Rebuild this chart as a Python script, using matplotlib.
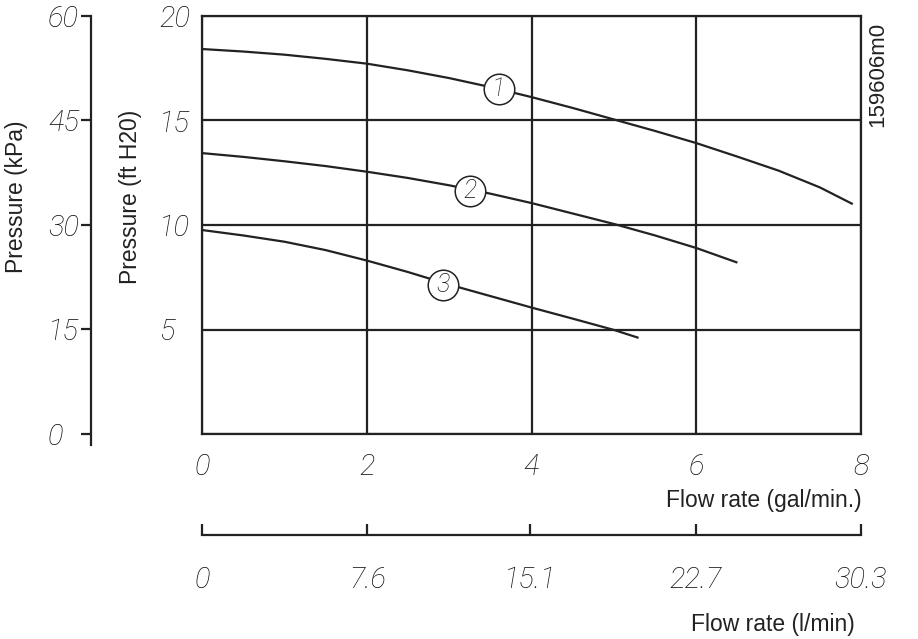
import matplotlib
matplotlib.use("Agg")
import matplotlib.pyplot as plt

# curve readings (gal/min, ft H2O)
flow_1 = [0, 0.5, 1, 1.5, 2, 2.5, 3, 3.5, 4, 4.5, 5, 5.5, 6, 6.5, 7, 7.5, 7.9]
head_1 = [18.42, 18.3, 18.15, 17.95, 17.72, 17.4, 17.03, 16.6, 16.12, 15.6,
          15.05, 14.5, 13.92, 13.27, 12.6, 11.8, 11.0]
flow_2 = [0, 0.5, 1, 1.5, 2, 2.5, 3, 3.5, 4, 4.5, 5, 5.5, 6, 6.5]
head_2 = [13.44, 13.26, 13.05, 12.82, 12.55, 12.25, 11.9, 11.5, 11.05, 10.55,
          10.05, 9.5, 8.9, 8.2]
flow_3 = [0, 0.5, 1, 1.5, 2, 2.5, 3, 3.5, 4, 4.5, 5, 5.3]
head_3 = [9.76, 9.5, 9.2, 8.8, 8.3, 7.75, 7.15, 6.6, 6.05, 5.52, 4.98, 4.6]

curve_names = ["1", "2", "3"]
label_flow = [3.6, 3.25, 2.93]
label_head = [16.5, 11.65, 7.15]

gal_ticks = [0, 2, 4, 6, 8]
ft_ticks = [0, 5, 10, 15, 20]
ft_labels = ["", "5", "10", "15", "20"]
kpa_ticks = [0, 15, 30, 45, 60]
lmin_ticks = [0, 7.6, 15.1, 22.7, 30.3]
lmin_labels = ["0", "7.6", "15.1", "22.7", "30.3"]

ink = "#222222"
num_ink = "#111111"
num_font = dict(family="Roboto", style="italic", weight="light", size=21)
txt_font = dict(family="Liberation Sans", size=16.5)

W, H = 918, 639
fig = plt.figure(figsize=(W / 100, H / 100), dpi=100)

# main chart
ax = fig.add_axes([202 / W, 1 - 434 / H, 659 / W, 418 / H])
ax.set_xlim(0, 8)
ax.set_ylim(0, 20)
ax.set_xticks(gal_ticks)
ax.set_xticklabels([str(t) for t in gal_ticks], fontdict=num_font, color=num_ink)
ax.set_yticks(ft_ticks)
ax.set_yticklabels(ft_labels, fontdict=num_font, color=num_ink)
ax.tick_params(axis="x", length=0, pad=14)
ax.tick_params(axis="y", length=0, pad=31)
for lab in ax.get_yticklabels():
    lab.set_horizontalalignment("left")
ax.grid(True, color=ink, linewidth=1.6)
for s in ax.spines.values():
    s.set_color(ink)
    s.set_linewidth(1.6)

for fx, hy in [(flow_1, head_1), (flow_2, head_2), (flow_3, head_3)]:
    ax.plot(fx, hy, color=ink, linewidth=1.6, solid_capstyle="butt", zorder=3)

for name, fx, hy in zip(curve_names, label_flow, label_head):
    ax.plot(fx, hy, "o", markersize=22, markerfacecolor="white",
            markeredgecolor=ink, markeredgewidth=1.1, zorder=4)
    ax.text(fx, hy, name, ha="center", va="center", zorder=5, color=num_ink,
            family="Roboto", style="italic", weight="light", size=18)

ax.set_xlabel("Flow rate (gal/min.)", fontdict=txt_font, color=ink)
ax.xaxis.set_label_coords(862 / W, 1 - 500 / H, transform=fig.transFigure)
ax.xaxis.label.set_horizontalalignment("right")
ax.xaxis.label.set_verticalalignment("center")
ax.set_ylabel("Pressure (ft H20)", fontdict=txt_font, color=ink)
ax.yaxis.set_label_coords(130 / W, 1 - 197 / H, transform=fig.transFigure)
ax.yaxis.label.set_verticalalignment("center")

# kPa axis on the far left
axk = fig.add_axes([91 / W, 1 - 445 / H, 0.0001, 429 / H])
axk.set_ylim(-1.58, 60)
axk.set_yticks(kpa_ticks)
axk.set_yticklabels([str(t) for t in kpa_ticks], fontdict=num_font, color=num_ink)
axk.set_xticks([])
for side in ["top", "right", "bottom"]:
    axk.spines[side].set_visible(False)
axk.spines["left"].set_color(ink)
axk.spines["left"].set_linewidth(1.6)
axk.tick_params(axis="y", length=7, width=1.6, color=ink, pad=24)
for lab in axk.get_yticklabels():
    lab.set_horizontalalignment("left")
axk.patch.set_visible(False)
axk.set_ylabel("Pressure (kPa)", fontdict=txt_font, color=ink)
axk.yaxis.set_label_coords(17 / W, 1 - 197 / H, transform=fig.transFigure)
axk.yaxis.label.set_verticalalignment("center")

# l/min axis below
axl = fig.add_axes([202 / W, 1 - 535 / H, 659 / W, 0.0001])
axl.set_xlim(0, 30.3)
axl.set_xticks(lmin_ticks)
axl.set_xticklabels(lmin_labels, fontdict=num_font, color=num_ink)
axl.set_yticks([])
for side in ["top", "right", "left"]:
    axl.spines[side].set_visible(False)
axl.spines["bottom"].set_color(ink)
axl.spines["bottom"].set_linewidth(1.6)
axl.tick_params(axis="x", direction="in", length=8, width=1.6, color=ink, pad=22)
axl.patch.set_visible(False)
axl.set_xlabel("Flow rate (l/min)", fontdict=txt_font, color=ink)
axl.xaxis.set_label_coords(855 / W, 1 - 624 / H, transform=fig.transFigure)
axl.xaxis.label.set_horizontalalignment("right")
axl.xaxis.label.set_verticalalignment("center")

fig.text(878 / W, 1 - 22 / H, "159606m0", rotation=90, ha="center", va="top",
         family="Liberation Sans", size=16, color=ink)

fig.savefig("out.png", dpi=100)
